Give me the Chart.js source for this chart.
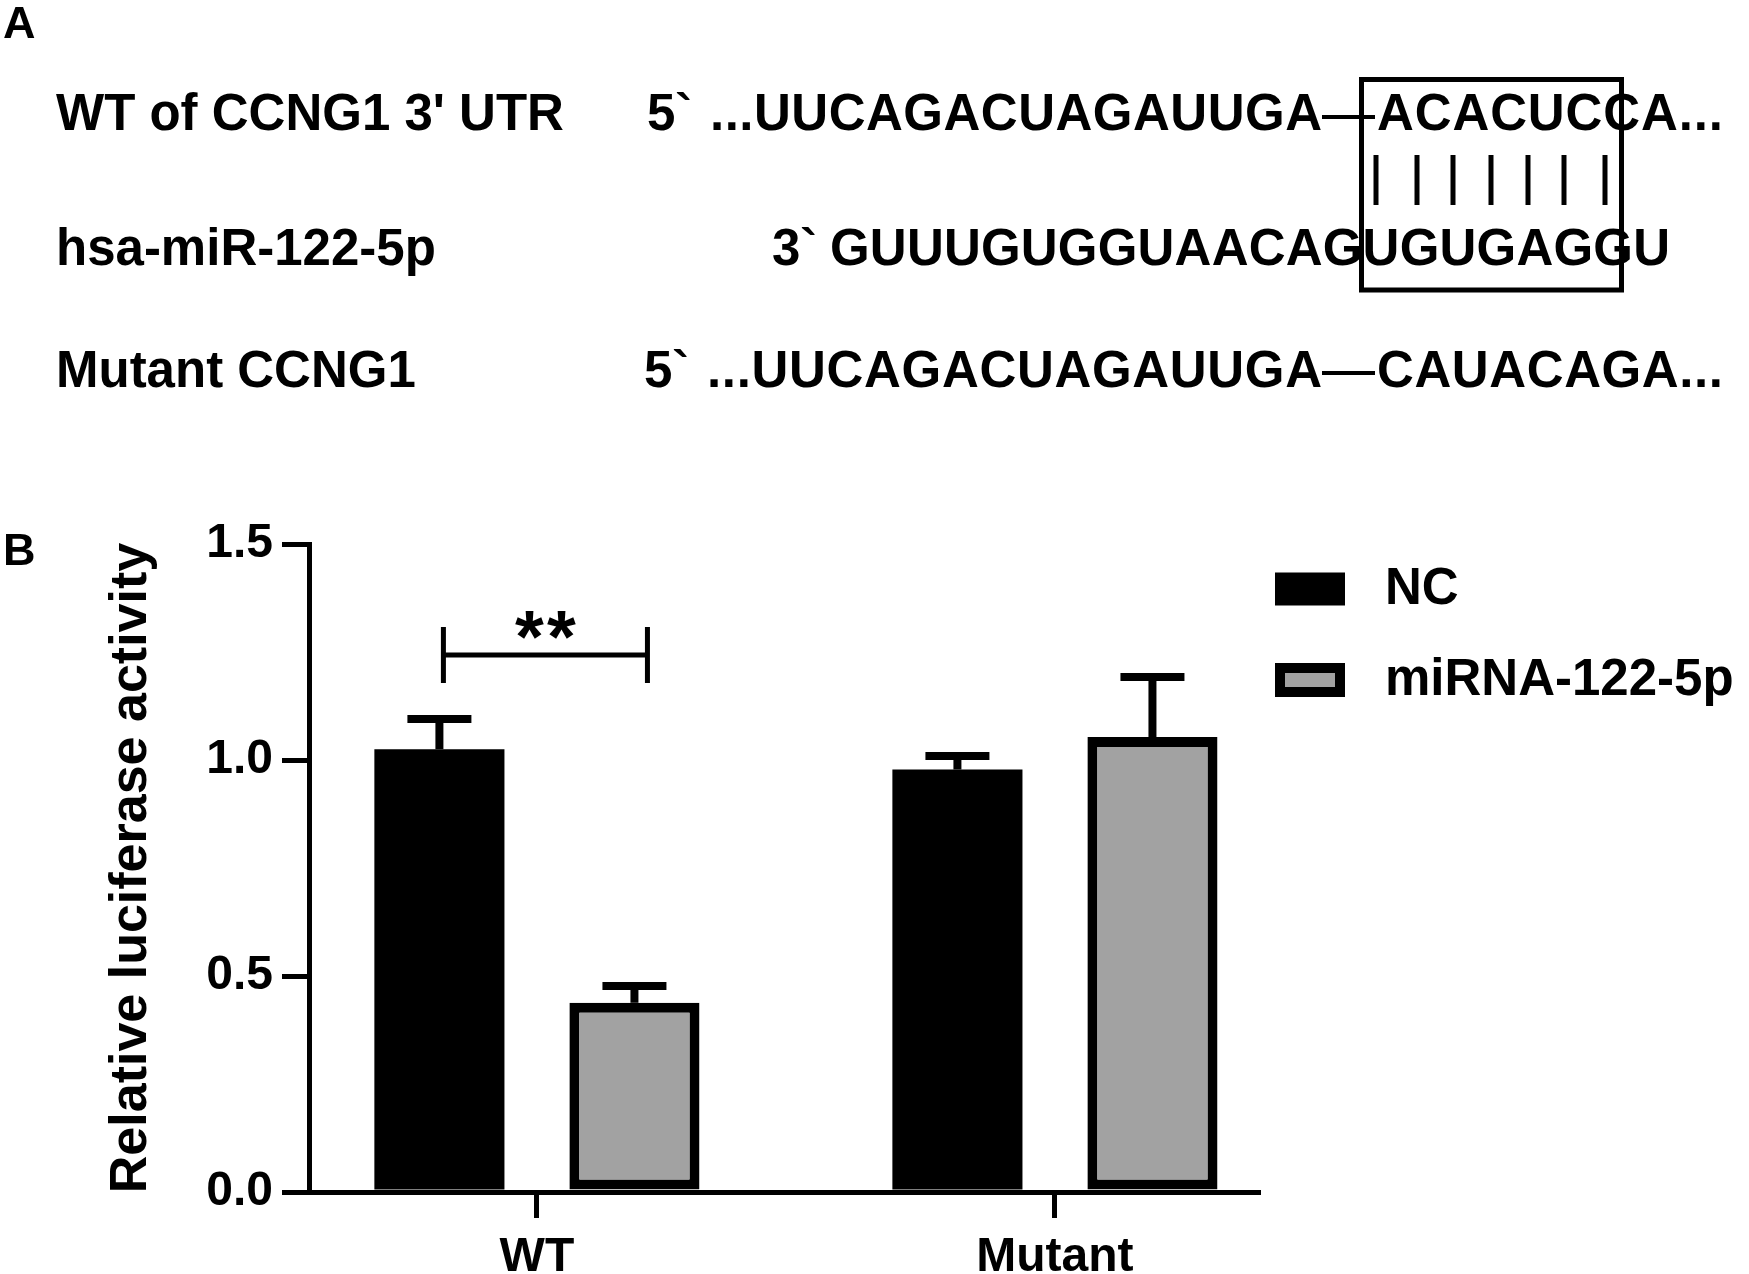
<!DOCTYPE html>
<html>
<head>
<meta charset="utf-8">
<script src="https://cdn.jsdelivr.net/npm/chart.js@4.4.1/dist/chart.umd.min.js"></script>
<style>
  html, body { margin: 0; padding: 0; background: #fff; }
  #wrap { position: relative; width: 1749px; height: 1274px; overflow: hidden; background: #fff; }
  #chart { position: absolute; left: 0; top: 0; }
  #panelA { position: absolute; left: 0; top: 0; }
  #panelA text { font-family: "Liberation Sans", Arial, sans-serif; font-weight: bold; fill: #000; }
</style>
</head>
<body>
<div id="wrap">
  <canvas id="chart" width="1749" height="1274" style="width:1749px;height:1274px"></canvas>
  <svg id="panelA" width="1749" height="1274" xmlns="http://www.w3.org/2000/svg">
    <text x="3" y="38" font-size="45">A</text>
    <text x="3" y="565" font-size="45">B</text>

    <!-- row labels -->
    <text x="56" y="130" font-size="51">WT of CCNG1 3' UTR</text>
    <text x="56" y="265" font-size="51">hsa-miR-122-5p</text>
    <text x="56" y="387" font-size="51">Mutant CCNG1</text>

    <!-- row 1 -->
    <text x="647" y="130" font-size="51">5`</text>
    <text x="710" y="130" font-size="51" textLength="612" lengthAdjust="spacing">...UUCAGACUAGAUUGA</text>
    <line x1="1322" y1="117" x2="1375" y2="117" stroke="#000" stroke-width="4"/>
    <text x="1377" y="130" font-size="51" textLength="346" lengthAdjust="spacing">ACACUCCA...</text>

    <!-- row 2 -->
    <text x="772" y="265" font-size="51">3`</text>
    <text x="830" y="265" font-size="51" textLength="840" lengthAdjust="spacing">GUUUGUGGUAACAGUGUGAGGU</text>

    <!-- row 3 -->
    <text x="644" y="387" font-size="51">5`</text>
    <text x="707" y="387" font-size="51" textLength="615" lengthAdjust="spacing">...UUCAGACUAGAUUGA</text>
    <line x1="1322" y1="373" x2="1375" y2="373" stroke="#000" stroke-width="4"/>
    <text x="1377" y="387" font-size="51" textLength="346" lengthAdjust="spacing">CAUACAGA...</text>

    <!-- seed box and pairing bars -->
    <rect x="1361.5" y="79.5" width="260" height="210.5" fill="none" stroke="#000" stroke-width="5"/>
    <g stroke="#000" stroke-width="5">
      <line x1="1376" y1="155" x2="1376" y2="205"/>
      <line x1="1417" y1="155" x2="1417" y2="205"/>
      <line x1="1453" y1="155" x2="1453" y2="205"/>
      <line x1="1491" y1="155" x2="1491" y2="205"/>
      <line x1="1528" y1="155" x2="1528" y2="205"/>
      <line x1="1564" y1="155" x2="1564" y2="205"/>
      <line x1="1605" y1="155" x2="1605" y2="205"/>
    </g>
  </svg>
</div>
<script>
// ---------------- data ----------------
const categories = ['WT', 'Mutant'];
const seriesNames = ['NC', 'miRNA-122-5p'];
const ncMeans = [1.025, 0.978];
const ncErrors = [0.070, 0.031];
const mirMeans = [0.438, 1.053];
const mirErrors = [0.039, 0.139];
const yTickValues = [0, 0.5, 1.0, 1.5];
const sigGroups = [0];
const sigLabels = ['**'];
const sigLevels = [1.243];

const FONT = '"Liberation Sans", Arial, sans-serif';
Chart.defaults.font.family = FONT;
Chart.defaults.color = '#000';

const errorBarPlugin = {
  id: 'errorBars',
  afterDatasetsDraw(chart) {
    const ctx = chart.ctx;
    const yScale = chart.scales.y;
    ctx.save();
    ctx.strokeStyle = '#000';
    ctx.lineWidth = 8;
    ctx.lineCap = 'butt';
    chart.data.datasets.forEach((ds, di) => {
      const meta = chart.getDatasetMeta(di);
      meta.data.forEach((bar, i) => {
        const top = ds.data[i].y + ds.errors[i];
        const yTop = yScale.getPixelForValue(top);
        ctx.beginPath();
        ctx.moveTo(bar.x, bar.y);
        ctx.lineTo(bar.x, yTop);
        ctx.stroke();
        ctx.beginPath();
        ctx.moveTo(bar.x - 32, yTop);
        ctx.lineTo(bar.x + 32, yTop);
        ctx.stroke();
      });
    });
    ctx.restore();
  }
};

const sigPlugin = {
  id: 'sigBracket',
  afterDatasetsDraw(chart) {
    const ctx = chart.ctx;
    const yScale = chart.scales.y;
    ctx.save();
    ctx.strokeStyle = '#000';
    ctx.fillStyle = '#000';
    ctx.lineWidth = 5;
    sigGroups.forEach((g, k) => {
      const b0 = chart.getDatasetMeta(0).data[g];
      const b1 = chart.getDatasetMeta(1).data[g];
      const x0 = b0.x + 4, x1 = b1.x + 13;
      const y = yScale.getPixelForValue(sigLevels[k]);
      const h = 28;
      ctx.beginPath();
      ctx.moveTo(x0, y); ctx.lineTo(x1, y);
      ctx.moveTo(x0, y - h); ctx.lineTo(x0, y + h);
      ctx.moveTo(x1, y - h); ctx.lineTo(x1, y + h);
      ctx.stroke();
      ctx.font = 'bold 74px ' + FONT;
      ctx.textAlign = 'center';
      ctx.textBaseline = 'alphabetic';
      const cx = (x0 + x1) / 2;
      const chars = sigLabels[k].split('');
      const step = 32;
      chars.forEach((c, j) => {
        ctx.fillText(c, cx + (j - (chars.length - 1) / 2) * step, y + 7);
      });
    });
    ctx.restore();
  }
};

const legendPlugin = {
  id: 'customLegend',
  afterDraw(chart) {
    const ctx = chart.ctx;
    const left = chart.chartArea.right + 17;
    const rows = [589, 680];
    ctx.save();
    chart.data.datasets.forEach((ds, i) => {
      const cy = rows[i];
      const w = 70, h = (i === 0 ? 33 : 34);
      const x = left, y = cy - h / 2;
      ctx.fillStyle = ds.borderWidth ? ds.borderColor : ds.backgroundColor;
      ctx.fillRect(x, y, w, h);
      if (ds.borderWidth) {
        ctx.fillStyle = ds.backgroundColor;
        ctx.fillRect(x + ds.borderWidth, y + ds.borderWidth, w - 2 * ds.borderWidth, h - 2 * ds.borderWidth);
      }
      ctx.fillStyle = '#000';
      ctx.font = 'bold 51px ' + FONT;
      ctx.textAlign = 'left';
      ctx.textBaseline = 'middle';
      ctx.fillText(ds.label, left + 110, cy + 1);
    });
    ctx.restore();
  }
};

const ctx = document.getElementById('chart').getContext('2d');
new Chart(ctx, {
  type: 'bar',
  data: {
    datasets: [
      {
        label: seriesNames[0],
        data: ncMeans.map((v, i) => ({ x: i + 1, y: v })),
        errors: ncErrors,
        backgroundColor: '#000000',
        borderColor: '#000000',
        borderWidth: 0,
        categoryPercentage: 0.753,
        barPercentage: 0.667
      },
      {
        label: seriesNames[1],
        data: mirMeans.map((v, i) => ({ x: i + 1, y: v })),
        errors: mirErrors,
        backgroundColor: '#a2a2a2',
        borderColor: '#000000',
        borderWidth: 10,
        borderSkipped: false,
        categoryPercentage: 0.753,
        barPercentage: 0.667
      }
    ]
  },
  options: {
    responsive: false,
    animation: false,
    devicePixelRatio: 1,
    layout: { padding: { top: 544, right: 491, bottom: 0, left: 0 } },
    plugins: {
      legend: { display: false },
      tooltip: { enabled: false }
    },
    scales: {
      x: {
        type: 'linear',
        min: 0.56,
        max: 2.392,
        offset: false,
        afterBuildTicks(scale) {
          scale.ticks = categories.map((c, i) => ({ value: i + 1 }));
        },
        afterFit(scale) { scale.height = 82; },
        ticks: {
          callback: (v, i) => categories[i],
          font: { size: 48, weight: 'bold' },
          color: '#000',
          padding: 11,
          maxRotation: 0,
          autoSkip: false
        },
        grid: {
          display: true,
          offset: false,
          drawOnChartArea: false,
          drawTicks: true,
          tickLength: 26,
          tickWidth: 5,
          tickColor: '#000',
          lineWidth: 5,
          color: '#000'
        },
        border: { display: true, color: '#000', width: 5 }
      },
      y: {
        type: 'linear',
        min: 0,
        max: 1.5,
        afterBuildTicks(scale) {
          scale.ticks = yTickValues.map(v => ({ value: v }));
        },
        afterFit(scale) { scale.width = 309; },
        ticks: {
          callback: (v) => Number(v).toFixed(1),
          font: { size: 48, weight: 'bold' },
          color: '#000',
          padding: 9
        },
        grid: {
          display: true,
          offset: false,
          drawOnChartArea: false,
          drawTicks: true,
          tickLength: 27,
          tickWidth: 5,
          tickColor: '#000',
          lineWidth: 5,
          color: '#000'
        },
        border: { display: true, color: '#000', width: 5 },
        title: {
          display: true,
          text: 'Relative luciferase activity',
          font: { size: 52, weight: 'bold' },
          color: '#000',
          padding: { top: 100, bottom: 0 }
        }
      }
    }
  },
  plugins: [errorBarPlugin, sigPlugin, legendPlugin]
});
</script>
</body>
</html>
